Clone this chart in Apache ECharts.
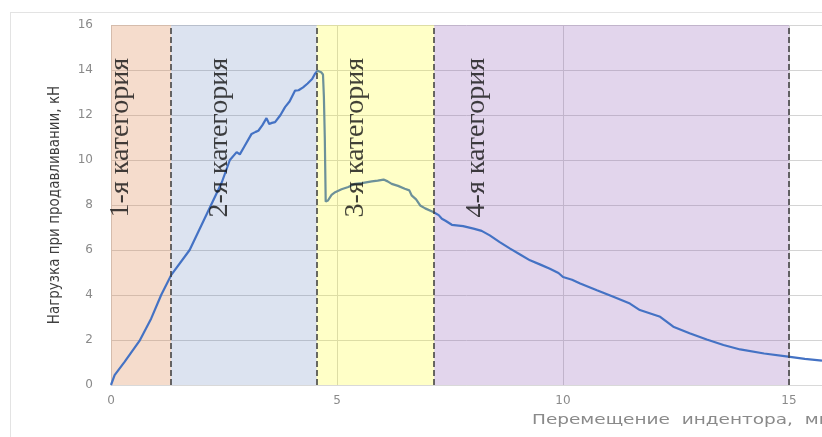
<!DOCTYPE html>
<html>
<head>
<meta charset="utf-8">
<script src="https://cdn.jsdelivr.net/npm/echarts@6/dist/echarts.min.js"></script>
<style>
  html, body { margin: 0; padding: 0; background: #ffffff; }
  #chart { width: 822px; height: 437px; }
</style>
</head>
<body>
<div id="chart"></div>
<script>
// Indenter displacement, mm
const displacement = [
  0, 0.08, 0.30, 0.63, 0.89, 1.11, 1.33, 1.74, 2.19, 2.45, 2.63, 2.78, 2.85, 2.95,
  3.05, 3.11, 3.20, 3.26, 3.35, 3.44, 3.50, 3.56, 3.63, 3.75, 3.85, 3.95, 4.07,
  4.15, 4.25, 4.35, 4.45, 4.51, 4.57, 4.65, 4.69, 4.71, 4.73, 4.75, 4.80, 4.88,
  4.96, 5.10, 5.25, 5.40, 5.55, 5.77, 5.90, 6.03, 6.12, 6.21, 6.35, 6.50, 6.60,
  6.65, 6.75, 6.84, 6.95, 7.13, 7.25, 7.32, 7.40, 7.54, 7.79, 8.02, 8.20, 8.38,
  8.60, 8.83, 9.05, 9.27, 9.50, 9.71, 9.90, 10.00, 10.20, 10.38, 10.75, 11.10,
  11.48, 11.70, 12.15, 12.44, 12.80, 13.18, 13.55, 13.92, 14.45, 14.98, 15.35, 15.73
];
// Punching load, kN
const load = [
  0, 0.44, 1.03, 1.96, 2.96, 4.00, 4.88, 6.00, 7.90, 9.00, 10.00, 10.35, 10.25, 10.60,
  10.95, 11.16, 11.25, 11.30, 11.55, 11.86, 11.60, 11.65, 11.68, 12.00, 12.35, 12.60, 13.08,
  13.10, 13.23, 13.40, 13.60, 13.82, 13.97, 13.90, 13.80, 12.80, 11.00, 8.15, 8.20, 8.45,
  8.57, 8.70, 8.80, 8.94, 8.97, 9.05, 9.08, 9.13, 9.05, 8.94, 8.85, 8.72, 8.65,
  8.43, 8.25, 7.98, 7.85, 7.69, 7.55, 7.39, 7.30, 7.12, 7.06, 6.95, 6.85, 6.65,
  6.35, 6.06, 5.80, 5.54, 5.35, 5.17, 4.98, 4.80, 4.68, 4.51, 4.21, 3.93,
  3.62, 3.33, 3.03, 2.59, 2.30, 2.02, 1.78, 1.58, 1.40, 1.26, 1.16, 1.08
];

// Stage boundaries along the displacement axis, mm
const stageBounds = [0, 1.33, 4.55, 7.15, 15.0];
const stageNames = ['1-я категория', '2-я категория', '3-я категория', '4-я категория'];
const stageFill = [
  'rgba(215,115,50,0.25)',
  'rgba(60,100,170,0.18)',
  'rgba(255,255,0,0.22)',
  'rgba(130,75,175,0.23)'
];
// Where each stage caption starts (x in mm, y in kN)
const stageLabelX = [0.22, 2.41, 5.42, 8.10];
const stageLabelY = 7.45;

const yTicks = { min: 0, max: 16, step: 2 };
// the plotted displacement range ends at the last recorded point
const xTicks = { min: 0, max: 15.73, step: 5 };

const curve = displacement.map((x, i) => [x, load[i]]);

function stageArea(i) {
  return [
    { xAxis: stageBounds[i], yAxis: yTicks.min, itemStyle: { color: stageFill[i] } },
    { xAxis: stageBounds[i + 1], yAxis: yTicks.max }
  ];
}

const chart = echarts.init(document.getElementById('chart'), null, { renderer: 'canvas' });

chart.setOption({
  animation: false,
  backgroundColor: '#ffffff',
  grid: { left: 111, top: 25, bottom: 52, right: 0, containLabel: false },
  xAxis: {
    type: 'value',
    min: xTicks.min,
    max: xTicks.max,
    interval: xTicks.step,
    axisLine: { show: true, lineStyle: { color: '#d9d9d9', width: 1 } },
    axisTick: { show: false },
    axisLabel: {
      margin: 10,
      color: '#8a8a8a',
      fontFamily: 'DejaVu Sans',
      fontSize: 12,
      showMaxLabel: false
    },
    splitLine: { show: true, lineStyle: { color: '#d4d4d4', width: 1 } }
  },
  yAxis: {
    type: 'value',
    min: yTicks.min,
    max: yTicks.max,
    interval: yTicks.step,
    name: 'Нагрузка при продавливании, кН',
    nameLocation: 'middle',
    nameRotate: 90,
    nameGap: 48,
    nameTextStyle: {
      color: '#404040',
      fontFamily: "'Liberation Sans Narrow', 'DejaVu Sans Condensed', sans-serif",
      fontSize: 15
    },
    axisLine: { show: false },
    axisTick: { show: false },
    axisLabel: {
      margin: 18,
      color: '#8a8a8a',
      fontFamily: 'DejaVu Sans',
      fontSize: 12
    },
    splitLine: { show: true, lineStyle: { color: '#d4d4d4', width: 1 } }
  },
  graphic: [
    {
      type: 'line',
      shape: { x1: 10, y1: 12.5, x2: 822, y2: 12.5 },
      style: { stroke: '#e3e3e3', lineWidth: 1 },
      silent: true
    },
    {
      type: 'line',
      shape: { x1: 10.5, y1: 12, x2: 10.5, y2: 437 },
      style: { stroke: '#e3e3e3', lineWidth: 1 },
      silent: true
    },
    {
      type: 'text',
      x: 532,
      y: 413,
      scaleX: 1.32,
      style: {
        text: 'Перемещение  индентора,  мм',
        fill: '#8a8a8a',
        font: '14px "DejaVu Sans"'
      },
      silent: true
    }
  ],
  series: [
    {
      // shaded stages lying under the curve
      type: 'line',
      data: [],
      z: 1,
      silent: true,
      markArea: {
        z: 1,
        silent: true,
        data: [stageArea(0), stageArea(1), stageArea(3)]
      }
    },
    {
      name: 'Нагрузка',
      type: 'line',
      data: curve,
      z: 2,
      showSymbol: false,
      symbol: 'none',
      smooth: false,
      lineStyle: { color: '#4472C4', width: 2.2 }
    },
    {
      // third stage tints the curve it covers
      type: 'line',
      data: [],
      z: 3,
      silent: true,
      markArea: {
        z: 3,
        silent: true,
        data: [stageArea(2)]
      }
    },
    {
      // dashed stage boundaries
      type: 'line',
      data: [],
      z: 4,
      silent: true,
      markLine: {
        z: 4,
        silent: true,
        symbol: 'none',
        label: { show: false },
        lineStyle: { color: '#3a3a3a', type: [6, 3], width: 1.5 },
        data: stageBounds.slice(1).map(v => ({ xAxis: v }))
      }
    },
    {
      // stage captions
      type: 'scatter',
      z: 5,
      silent: true,
      symbolSize: 0,
      data: stageNames.map((n, i) => ({ name: n, value: [stageLabelX[i], stageLabelY] })),
      label: {
        show: true,
        position: 'inside',
        rotate: 90,
        align: 'left',
        verticalAlign: 'middle',
        formatter: p => p.name,
        color: '#111111',
        fontFamily: "'Liberation Serif', 'Times New Roman', serif",
        fontSize: 28
      }
    }
  ]
});
</script>
</body>
</html>
